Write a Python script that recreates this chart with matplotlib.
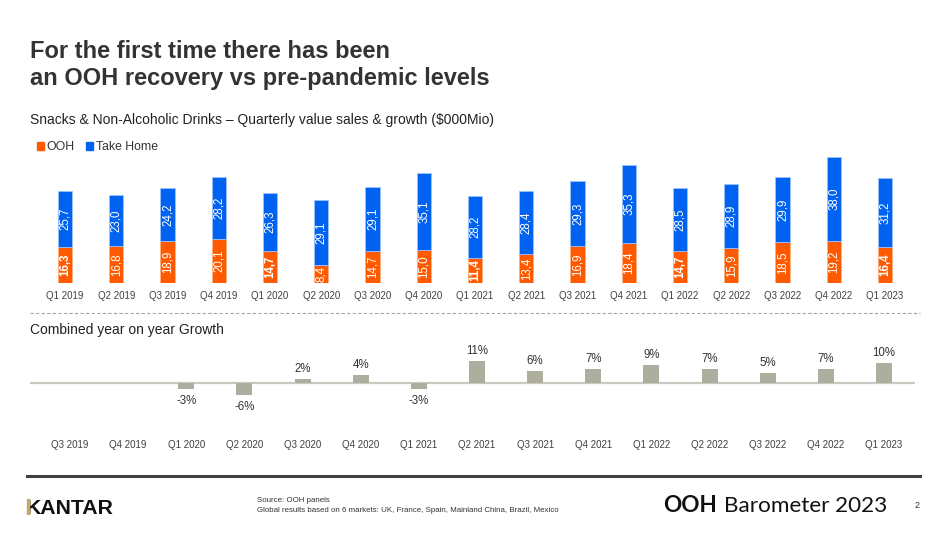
import numpy as np
import matplotlib.pyplot as plt
from matplotlib.patches import Patch, Rectangle
from matplotlib.lines import Line2D

plt.rcParams['font.family'] = ['Liberation Sans', 'DejaVu Sans']

# Data
quarters = ["Q1 2019", "Q2 2019", "Q3 2019", "Q4 2019", "Q1 2020", "Q2 2020",
            "Q3 2020", "Q4 2020", "Q1 2021", "Q2 2021", "Q3 2021", "Q4 2021",
            "Q1 2022", "Q2 2022", "Q3 2022", "Q4 2022", "Q1 2023"]
ooh = [16.3, 16.8, 18.9, 20.1, 14.7, 8.4, 14.7, 15.0, 11.4, 13.4, 16.9, 18.4,
       14.7, 15.9, 18.5, 19.2, 16.4]
take_home = [25.7, 23.0, 24.2, 28.2, 26.3, 29.1, 29.1, 35.1, 28.2, 28.4, 29.3,
             35.3, 28.5, 28.9, 29.9, 38.0, 31.2]

growth_quarters = quarters[2:]
growth = [np.nan, np.nan, -3, -6, 2, 4, -3, 11, 6, 7, 9, 7, 5, 7, 10]

ORANGE = "#FF5A00"
BLUE = "#0062F0"
GREY_BAR = "#AEAE9E"
TEXT = "#333333"


def fmt(v):
    return f"{v:.1f}".replace(".", ",")


W, H = 950, 535
fig = plt.figure(figsize=(W / 100, H / 100), dpi=100)


def fx(px):
    return px / W


def fy(py):
    return 1 - py / H


# Title and subtitle
fig.text(fx(30), fy(58), "For the first time there has been", fontsize=17,
         fontweight="bold", color=TEXT, va="baseline")
fig.text(fx(30), fy(85), "an OOH recovery vs pre-pandemic levels", fontsize=17,
         fontweight="bold", color=TEXT, va="baseline")
fig.text(fx(30), fy(124), "Snacks & Non-Alcoholic Drinks \u2013 Quarterly value sales & growth ($000Mio)",
         fontsize=10, color="#222222", va="baseline")

# Top stacked bar chart
ax = fig.add_axes([fx(30), fy(283), fx(890), 133 / H])
x = np.arange(len(quarters))
bw = 0.28
ax.bar(x, ooh, bw, color=ORANGE, edgecolor="#FFB27F", linewidth=0.6)
ax.bar(x, take_home, bw, bottom=ooh, color=BLUE, edgecolor="#9CC2FF", linewidth=0.6)
for i in range(len(quarters)):
    bold = quarters[i].startswith("Q1")
    ax.text(x[i], ooh[i] / 2, fmt(ooh[i]), rotation=90, ha="center", va="center",
            color="white", fontsize=8.3, fontweight="bold" if bold else "normal")
    ax.text(x[i], ooh[i] + take_home[i] / 2, fmt(take_home[i]), rotation=90,
            ha="center", va="center", color="white", fontsize=8.3)
ax.set_xlim(-35 / 51.25, 16 + 35 / 51.25)
ax.set_ylim(0, 133 / 2.2)
ax.set_xticks(x)
ax.set_xticklabels(quarters, fontsize=7, color="#404040")
ax.tick_params(axis="x", length=0, pad=6)
ax.set_yticks([])
for s in ax.spines.values():
    s.set_visible(False)

handles = [Patch(color=ORANGE, label="OOH"), Patch(color=BLUE, label="Take Home")]
fig.legend(handles=handles, loc="center left", bbox_to_anchor=(fx(37), fy(147)),
           ncol=2, frameon=False, fontsize=8.8, handlelength=0.6, handleheight=0.6,
           handletextpad=0.2, columnspacing=0.9, borderpad=0, borderaxespad=0,
           labelcolor="#333333")

# Dashed separator
fig.add_artist(Line2D([fx(30), fx(920)], [fy(313), fy(313)], color="#A6A6A6",
                      linewidth=0.8, linestyle=(0, (3, 2))))

fig.text(fx(30), fy(330), "Combined year on year Growth", fontsize=10,
         color="#222222", va="center")

# Bottom growth chart
ax2 = fig.add_axes([fx(30), fy(437), fx(885), 97 / H])
gx = np.arange(len(growth_quarters))
ax2.axhline(0, color="#C9C9C1", linewidth=1.6, zorder=1)
ax2.bar(gx, growth, 0.275, color=GREY_BAR, zorder=2)
for i, g in enumerate(growth):
    if np.isnan(g):
        continue
    if g >= 0:
        ax2.annotate(f"{g:.0f}%", (gx[i], g), xytext=(0, 3), textcoords="offset points",
                     ha="center", va="bottom", fontsize=8.3, color="#333333")
    else:
        ax2.annotate(f"{g:.0f}%", (gx[i], g), xytext=(0, -4.5), textcoords="offset points",
                     ha="center", va="top", fontsize=8.3, color="#333333")
ax2.set_xlim(-40 / 58.14, 14 + 31 / 58.14)
ax2.set_ylim(-27, 21.5)
ax2.set_xticks(gx)
ax2.set_xticklabels(growth_quarters, fontsize=7, color="#404040")
ax2.tick_params(axis="x", length=0, pad=2.5)
ax2.set_yticks([])
for s in ax2.spines.values():
    s.set_visible(False)

# Footer
fig.add_artist(Line2D([fx(27), fx(920)], [fy(476), fy(476)], color="#404040",
                      linewidth=2.2))
fig.text(fx(26), fy(514), "KANTAR", fontsize=15.3, fontweight="bold", color="#111111",
         va="baseline")
fig.add_artist(Rectangle((fx(27.3), fy(514)), fx(2.0), 15.5 / H, color="#C9A95C",
                         transform=fig.transFigure, zorder=10))
fig.text(fx(257), fy(500), "Source: OOH panels", fontsize=5.7, color="#333333", va="center")
fig.text(fx(257), fy(511), "Global results based on 6 markets: UK, France, Spain, Mainland China, Brazil, Mexico",
         fontsize=5.7, color="#333333", va="center")
fig.text(fx(663), fy(512), "OOH", fontsize=16.2, fontweight="bold", color="#111111",
         va="baseline", family=["Lato", "DejaVu Sans"])
fig.text(fx(724), fy(512), "Barometer 2023", fontsize=16.2, color="#111111",
         va="baseline", family=["Lato", "DejaVu Sans"])
fig.text(fx(915), fy(505), "2", fontsize=6.5, color="#333333", va="center")

fig.savefig("out.png", dpi=100)
